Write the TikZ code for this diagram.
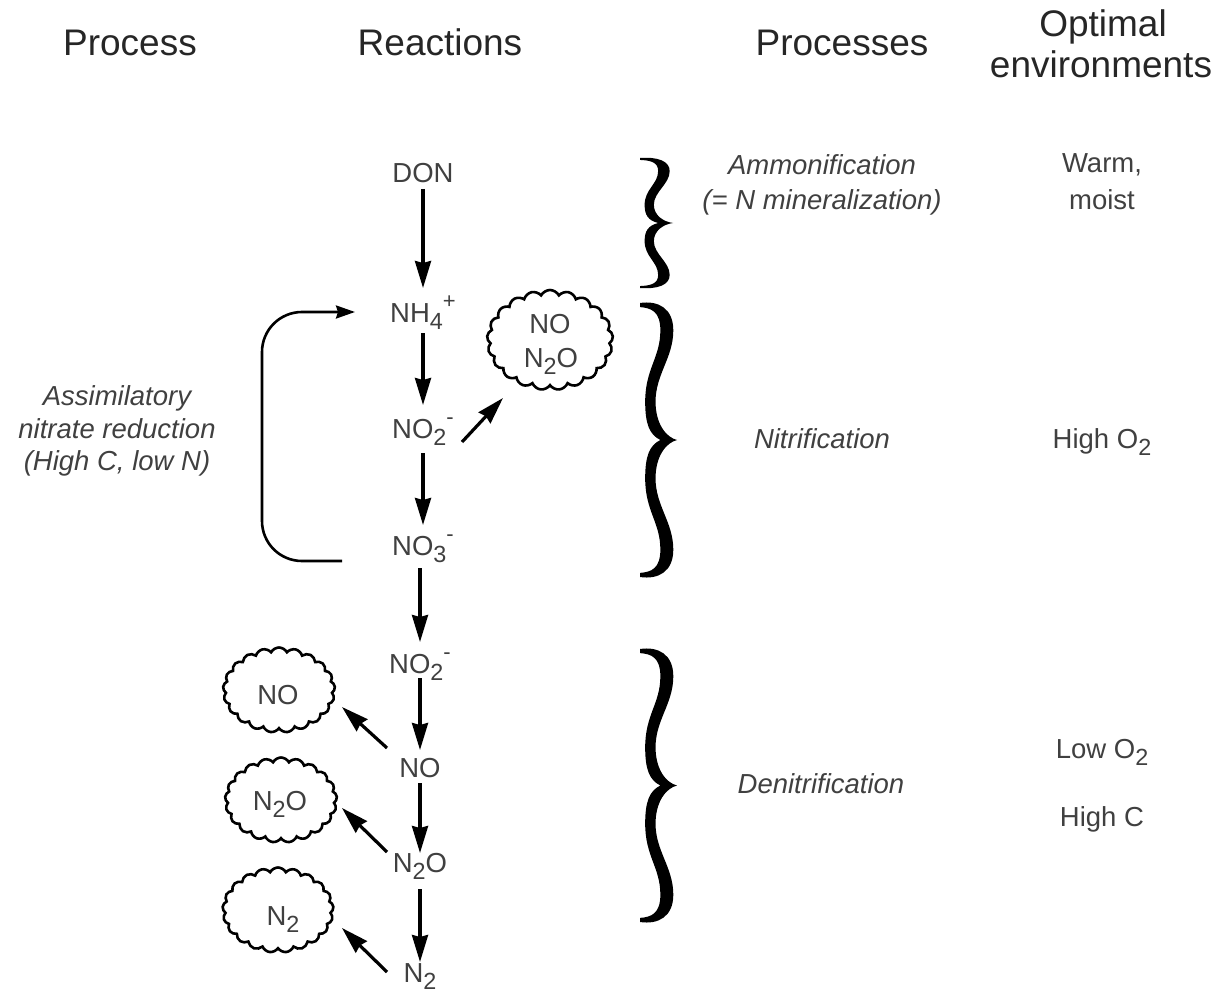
\documentclass[tikz,border=0pt]{standalone}
\usepackage{fontspec}
\setmainfont{Liberation Sans}
\usepackage{graphicx}
\usetikzlibrary{shapes.symbols,arrows.meta,calc}
\newcommand\lo[1]{\raisebox{-0.28em}{\scalebox{0.85}{#1}}}
\newcommand\hi[1]{\raisebox{0.5em}{\scalebox{0.8}{#1}}}
\newcommand\mybracefill[4]{%
 \begin{scope}[shift={(#1,#2)},xscale=#3,yscale=#4]
 \fill[black] (0,0) .. controls (0.5,-0.01) and (0.9,0.02) .. (0.9,0.1)
   .. controls (0.9,0.2) and (0.42,0.26) .. (0.42,0.36)
   .. controls (0.42,0.44) and (0.7,0.49) .. (1,0.5)
   .. controls (0.7,0.51) and (0.42,0.56) .. (0.42,0.64)
   .. controls (0.42,0.74) and (0.9,0.8) .. (0.9,0.9)
   .. controls (0.9,0.98) and (0.5,1.01) .. (0,1)
   -- (0,0.985)
   .. controls (0.3,0.982) and (0.55,0.97) .. (0.55,0.9)
   .. controls (0.55,0.8) and (0.14,0.76) .. (0.14,0.64)
   .. controls (0.14,0.56) and (0.25,0.52) .. (0.55,0.5)
   .. controls (0.25,0.48) and (0.14,0.44) .. (0.14,0.36)
   .. controls (0.14,0.24) and (0.55,0.2) .. (0.55,0.1)
   .. controls (0.55,0.03) and (0.3,0.018) .. (0,0.015) -- cycle;
 \end{scope}}
\begin{document}
\begin{tikzpicture}[x=1pt,y=-1pt,
  hdr/.style={font=\fontsize{37}{41}\selectfont, text=black!85, inner sep=0pt, anchor=base},
  lbl/.style={font=\fontsize{27.5}{33}\selectfont, text=black!75, inner sep=0pt, anchor=base},
  ital/.style={font=\fontsize{27.5}{33}\selectfont\itshape, text=black!75, inner sep=0pt, anchor=base},
  arr/.style={-{Stealth[length=27pt,width=16pt,inset=2pt]}, line width=3.2pt},
  loop/.style={-{Stealth[length=19pt,width=13pt,inset=2pt]}, line width=2.6pt, rounded corners=40pt},
  puff/.style={cloud, draw, cloud puffs=21, cloud puff arc=125, cloud ignores aspect, line width=2.6pt, inner sep=0pt}]
\useasboundingbox (0,0) rectangle (1218,995);
% headers
\node[hdr] (h1) at (130,56) {Process};
\node[hdr] (h2) at (440,56) {Reactions};
\node[hdr] (h3) at (842,56) {Processes};
\node[hdr] (h4a) at (1103,37) {Optimal};
\node[hdr] (h4b) at (1101,78) {environments};
% chain
\node[lbl] (don) at (423,183) {DON};
\node[lbl] (nh4) at (423,322) {NH\lo{4}\hi{+}};
\node[lbl] (no2a) at (423,438) {NO\lo{2}\hi{-}};
\node[lbl] (no3) at (423,555) {NO\lo{3}\hi{-}};
\node[lbl] (no2b) at (420,673) {NO\lo{2}\hi{-}};
\node[lbl] (no) at (420,777) {NO};
\node[lbl] (n2o) at (420,872) {N\lo{2}O};
\node[lbl] (n2) at (420,982) {N\lo{2}};
\draw[arr] ($(don.base)+(0,6)$) -- ($(don.base |- nh4.base)+(0,-34)$);
\draw[arr] ($(nh4.base)+(0,11)$) -- ($(nh4.base |- no2a.base)+(0,-33)$);
\draw[arr] ($(no2a.base)+(0,15)$) -- ($(no2a.base |- no3.base)+(0,-30)$);
\draw[arr] ($(no3.base -| no2b.base)+(0,13)$) -- ($(no2b.base)+(0,-31)$);
\draw[arr] ($(no2b.base)+(0,5)$) -- ($(no2b.base |- no.base)+(0,-27)$);
\draw[arr] ($(no.base)+(0,6)$) -- ($(no.base |- n2o.base)+(0,-19)$);
\draw[arr] ($(n2o.base)+(0,17)$) -- ($(n2o.base |- n2.base)+(0,-20)$);
% clouds
\node[puff, minimum width=126pt, minimum height=100pt] (c1) at (550,340) {};
\node[lbl] (c1a) at (550,333) {NO};
\node[lbl] (c1b) at (551,367) {N\lo{2}O};
\node[puff, minimum width=112pt, minimum height=85pt] (c2) at (279,690) {};
\node[lbl] (c2t) at (278,704) {NO};
\node[puff, minimum width=112pt, minimum height=85pt] (c3) at (281,800) {};
\node[lbl] (c3t) at (280,810) {N\lo{2}O};
\node[puff, minimum width=111pt, minimum height=85pt] (c4) at (278,910) {};
\node[lbl] (c4t) at (283,925) {N\lo{2}};
\draw[arr] ($(no2a.base)+(39,4)$) -- ($(c1.center)+(-47,58)$);
\draw[arr] ($(no.base)+(-33,-29)$) -- ($(c2.center)+(63,17)$);
\draw[arr] ($(n2o.base)+(-33,-20)$) -- ($(c3.center)+(61,8)$);
\draw[arr] ($(n2.base)+(-33,-10)$) -- ($(c4.center)+(64,18)$);
% assimilatory loop
\draw[loop] ($(no3.base)+(-81,6)$) -- ($(no3.base)+(-161,6)$) -- ($(nh4.base)+(-161,-10)$) -- ($(nh4.base)+(-68,-10)$);
\node[ital] (as1) at (117,405) {Assimilatory};
\node[ital] (as2) at (117,438) {nitrate reduction};
\node[ital] (as3) at (117,470) {(High C, low N)};
% braces
\mybracefill{640}{158}{33}{130}
\mybracefill{640}{303}{37}{274}
\mybracefill{640}{649}{37}{273}
% process labels
\node[ital] (p1a) at (822,175) {Ammonification};
\node[ital] (p1b) at (822,210) {(= N mineralization)};
\node[ital] (p2) at (822,448) {Nitrification};
\node[ital] (p3) at (821,793) {Denitrification};
% environments
\node[lbl] (e1a) at (1102,173) {Warm,};
\node[lbl] (e1b) at (1102,210) {moist};
\node[lbl] (e2) at (1102,448) {High O\lo{2}};
\node[lbl] (e3a) at (1102,758) {Low O\lo{2}};
\node[lbl] (e3b) at (1102,826) {High C};
\end{tikzpicture}
\end{document}
